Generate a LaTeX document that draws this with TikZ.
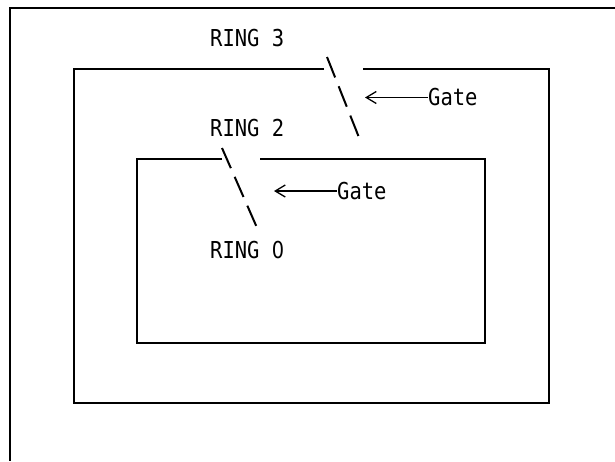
\documentclass[tikz,border=0pt]{standalone}
\usepackage{fontspec}
\usepackage{tikz}
\usetikzlibrary{arrows.meta}
\newfontfamily\ringfont[FakeStretch=0.88]{DejaVu Sans Mono}
\newfontfamily\plainzero[FakeStretch=0.83]{DejaVu Sans}

\begin{document}
\begin{tikzpicture}[x=1pt,y=-1pt,
  wall/.style={line width=2pt,line join=miter},
  gateline/.style={line width=2pt,dash pattern=on 22pt off 9.5pt},
  lbl/.style={anchor=west,inner sep=0pt,font=\ringfont\fontsize{23.3}{28}\selectfont},
  pointer/.style={line width=1.3pt,-{Straight Barb[length=10pt,width=12pt,line width=1.3pt]}}]
  \useasboundingbox (0,0) rectangle (615,461);
  % outer frame, open to the right and below
  \draw[wall] (615,7.5) -- (10,7.5) -- (10,461);
  % ring 3 with its gap
  \draw[wall] (324,68.5) -- (74,68.5) -- (74,402.5) -- (548.5,402.5) -- (548.5,68.5) -- (362.5,68.5);
  % ring 2 with its gap
  \draw[wall] (221.5,159) -- (137,159) -- (137,342.5) -- (484.5,342.5) -- (484.5,159) -- (260,159);
  % gates
  \draw[gateline] (327,57) -- (360,140);
  \draw[gateline] (222,148) -- (258,230);
  % labels
  \node[lbl] (ring3) at (210,38.5) {RING 3};
  \node[lbl] (ring2) at (210,128.5) {RING 2};
  \node[lbl] (ring0) at (210,250) {RING {\plainzero 0}};
  \node[lbl] (gate3) at (428,97.5) {Gate};
  \node[lbl] (gate2) at (337,191) {Gate};
  \coordinate (tip3) at (365,97.5);
  \coordinate (tip2) at (274,191);
  \draw[pointer] (gate3.west) -- (tip3);
  \draw[pointer] (gate2.west) -- (tip2);
\end{tikzpicture}
\end{document}
